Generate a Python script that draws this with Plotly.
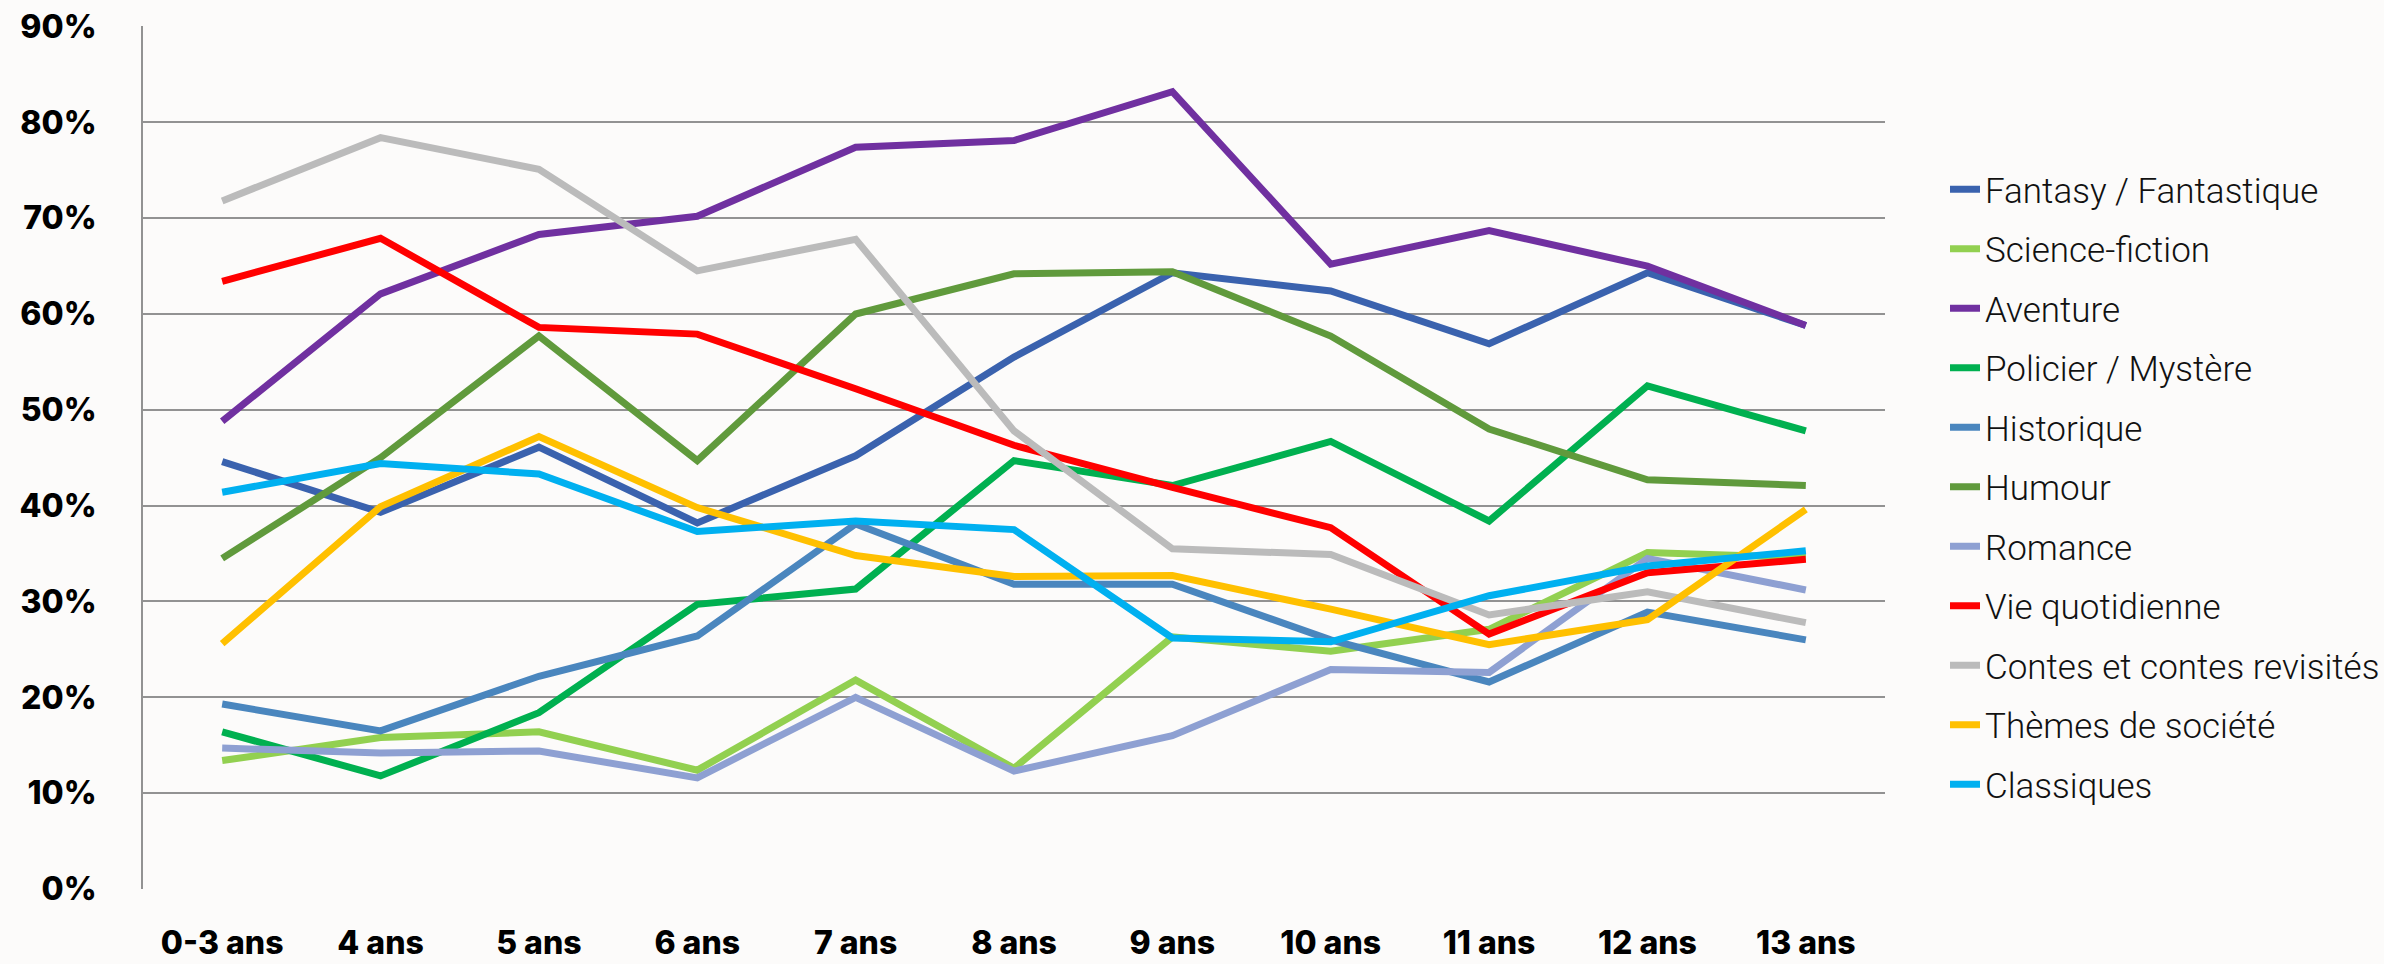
import plotly.graph_objects as go

ages = ["0-3 ans", "4 ans", "5 ans", "6 ans", "7 ans", "8 ans", "9 ans", "10 ans", "11 ans", "12 ans", "13 ans"]

fantasy = [44.6, 39.3, 46.1, 38.2, 45.2, 55.5, 64.3, 62.4, 56.9, 64.3, 58.8]
science_fiction = [13.4, 15.8, 16.4, 12.4, 21.8, 12.6, 26.3, 24.8, 27.1, 35.1, 34.6]
aventure = [48.8, 62.1, 68.3, 70.2, 77.4, 78.1, 83.2, 65.2, 68.7, 65.0, 58.8]
policier = [16.4, 11.8, 18.4, 29.7, 31.3, 44.7, 42.1, 46.7, 38.4, 52.5, 47.8]
historique = [19.3, 16.5, 22.2, 26.4, 38.1, 31.8, 31.8, 26.0, 21.6, 28.9, 26.0]
humour = [34.5, 45.0, 57.7, 44.7, 60.0, 64.2, 64.4, 57.7, 48.0, 42.7, 42.1]
romance = [14.7, 14.2, 14.4, 11.6, 20.0, 12.3, 16.0, 22.9, 22.6, 34.5, 31.2]
vie_quotidienne = [63.4, 67.9, 58.6, 57.9, 52.2, 46.3, 41.9, 37.7, 26.6, 33.0, 34.4]
contes = [71.8, 78.4, 75.1, 64.5, 67.8, 47.8, 35.5, 34.9, 28.6, 31.0, 27.8]
themes = [25.6, 39.9, 47.2, 39.8, 34.8, 32.6, 32.7, 29.2, 25.5, 28.1, 39.6]
classiques = [41.4, 44.4, 43.3, 37.3, 38.4, 37.5, 26.2, 25.8, 30.6, 33.7, 35.3]

series_names = ["Fantasy / Fantastique", "Science-fiction", "Aventure", "Policier / Mystère",
                "Historique", "Humour", "Romance", "Vie quotidienne",
                "Contes et contes revisités", "Thèmes de société", "Classiques"]
series_values = [fantasy, science_fiction, aventure, policier, historique, humour,
                 romance, vie_quotidienne, contes, themes, classiques]
series_colors = ["#3A62AE", "#92D050", "#7030A0", "#00B050", "#4A86BE", "#609A3C",
                 "#8EA0D2", "#FF0000", "#BBBBBB", "#FFC000", "#00B0F0"]

y_ticks = [0, 0.1, 0.2, 0.3, 0.4, 0.5, 0.6, 0.7, 0.8, 0.9]

fig = go.Figure()
for name, vals, col in zip(series_names, series_values, series_colors):
    fig.add_trace(go.Scatter(
        x=ages, y=[v / 100 for v in vals], name=name, mode="lines",
        legendgroup=name,
        line=dict(color=col, width=7),
    ))

tick_font = dict(family="Inter", size=32, color="#000000", weight=800)

fig.update_layout(
    width=2384, height=964,
    paper_bgcolor="#FCFBFA", plot_bgcolor="#FCFBFA",
    margin=dict(l=143, r=499, t=26, b=75, autoexpand=False),
    showlegend=True,
    legend=dict(
        xref="container", yref="container",
        x=1945 / 2384, y=1 - 160 / 964, xanchor="left", yanchor="top",
        font=dict(family="Roboto", size=35, color="#111111", weight=300),
        tracegroupgap=11, bgcolor="rgba(0,0,0,0)", maxheight=950,
    ),
    xaxis=dict(
        type="category", range=[-0.5, 10.5], showgrid=False, zeroline=False,
        showline=False, tickfont=tick_font, ticks="", ticklabelstandoff=32,
        automargin=False,
    ),
    yaxis=dict(
        range=[0, 0.9005], tickvals=y_ticks, tickformat=".0%",
        showgrid=True, gridcolor="#929292", gridwidth=2,
        zeroline=False, showline=True, linecolor="#929292", linewidth=2,
        tickfont=tick_font, ticks="", ticklabelstandoff=38,
        automargin=False,
    ),
)

fig.write_html("out.html", config={"displayModeBar": False},
               post_script="document.body.style.margin='0';document.body.style.overflow='hidden';")
